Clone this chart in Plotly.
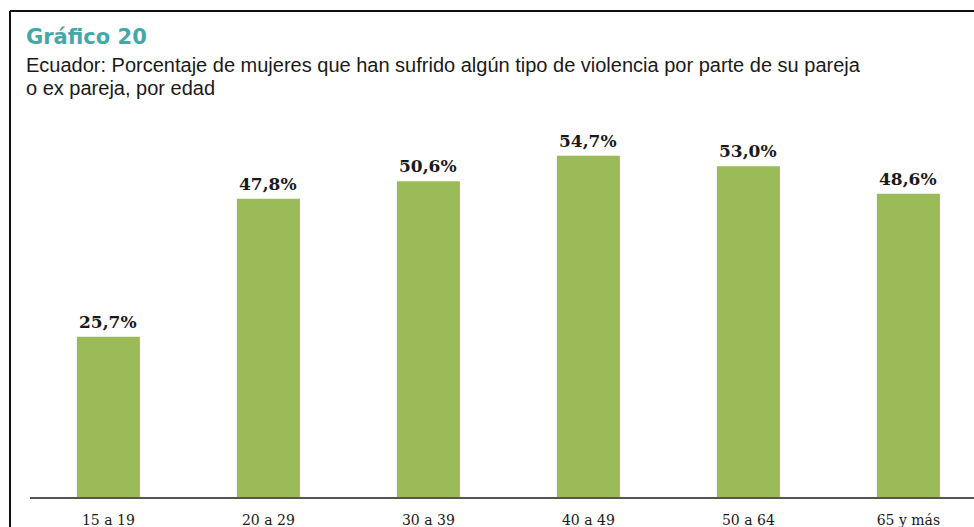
import plotly.graph_objects as go

categories = ["15 a 19", "20 a 29", "30 a 39", "40 a 49", "50 a 64", "65 y más"]
values = [25.7, 47.8, 50.6, 54.7, 53.0, 48.6]
labels = ["25,7%", "47,8%", "50,6%", "54,7%", "53,0%", "48,6%"]

title_text = "Gráfico 20"
subtitle_lines = [
    "Ecuador: Porcentaje de mujeres que han sufrido algún tipo de violencia por parte de su pareja",
    "o ex pareja, por edad",
]

W, H = 974, 527
ML, MR, MT, MB = 30, 0, 120, 30
plot_h = H - MT - MB
plot_w = W - ML - MR


def px_x(px):
    return (px - ML) / plot_w


def px_y(py):
    return (H - MB - py) / plot_h


fig = go.Figure()
fig.add_trace(go.Bar(
    x=list(range(len(categories))),
    y=values,
    width=0.394,
    marker=dict(color="#9bbb59", line=dict(width=0)),
    hoverinfo="skip",
))

annotations = []
for i, (v, lab) in enumerate(zip(values, labels)):
    annotations.append(dict(
        x=i, y=v, xref="x", yref="y", text=lab, showarrow=False,
        yanchor="bottom", xanchor="center", yshift=3,
        font=dict(family="DejaVu Serif", size=17, color="#1a1a1a", weight="bold"),
    ))

annotations.append(dict(
    x=px_x(24), y=px_y(37), xref="paper", yref="paper", text="<b>" + title_text + "</b>",
    showarrow=False, xanchor="left", yanchor="middle",
    font=dict(family="DejaVu Sans, Liberation Sans, sans-serif", size=21, color="#45a8a8"),
))
for j, (line, cy) in enumerate(zip(subtitle_lines, [65, 88])):
    annotations.append(dict(
        x=px_x(24), y=px_y(cy), xref="paper", yref="paper", text=line,
        showarrow=False, xanchor="left", yanchor="middle",
        font=dict(family="Liberation Sans, Arial, sans-serif", size=20, color="#1a1a1a"),
    ))

shapes = [
    dict(type="line", xref="paper", yref="paper", x0=px_x(10), x1=px_x(980), y0=px_y(11), y1=px_y(11),
         line=dict(color="#111111", width=2)),
    dict(type="line", xref="paper", yref="paper", x0=px_x(10), x1=px_x(10), y0=px_y(11), y1=px_y(530),
         line=dict(color="#111111", width=2)),
]

fig.update_layout(
    width=W, height=H,
    margin=dict(l=ML, r=MR, t=MT, b=MB, pad=0),
    paper_bgcolor="white", plot_bgcolor="white",
    showlegend=False,
    annotations=annotations,
    shapes=shapes,
    xaxis=dict(
        range=[-0.49, 5.41],
        tickmode="array", tickvals=list(range(len(categories))), ticktext=categories,
        showgrid=False, zeroline=False, showline=True, linecolor="#555555", linewidth=2,
        ticks="", ticklabelstandoff=9,
        tickfont=dict(family="DejaVu Serif", size=14, color="#1a1a1a"),
        fixedrange=True,
    ),
    yaxis=dict(
        range=[0, plot_h / 6.24], visible=False, showgrid=False, zeroline=False, fixedrange=True,
    ),
)

fig.write_html(
    "out.html",
    config={"displayModeBar": False},
    post_script="document.body.style.margin='0';document.body.style.overflow='hidden';",
)
